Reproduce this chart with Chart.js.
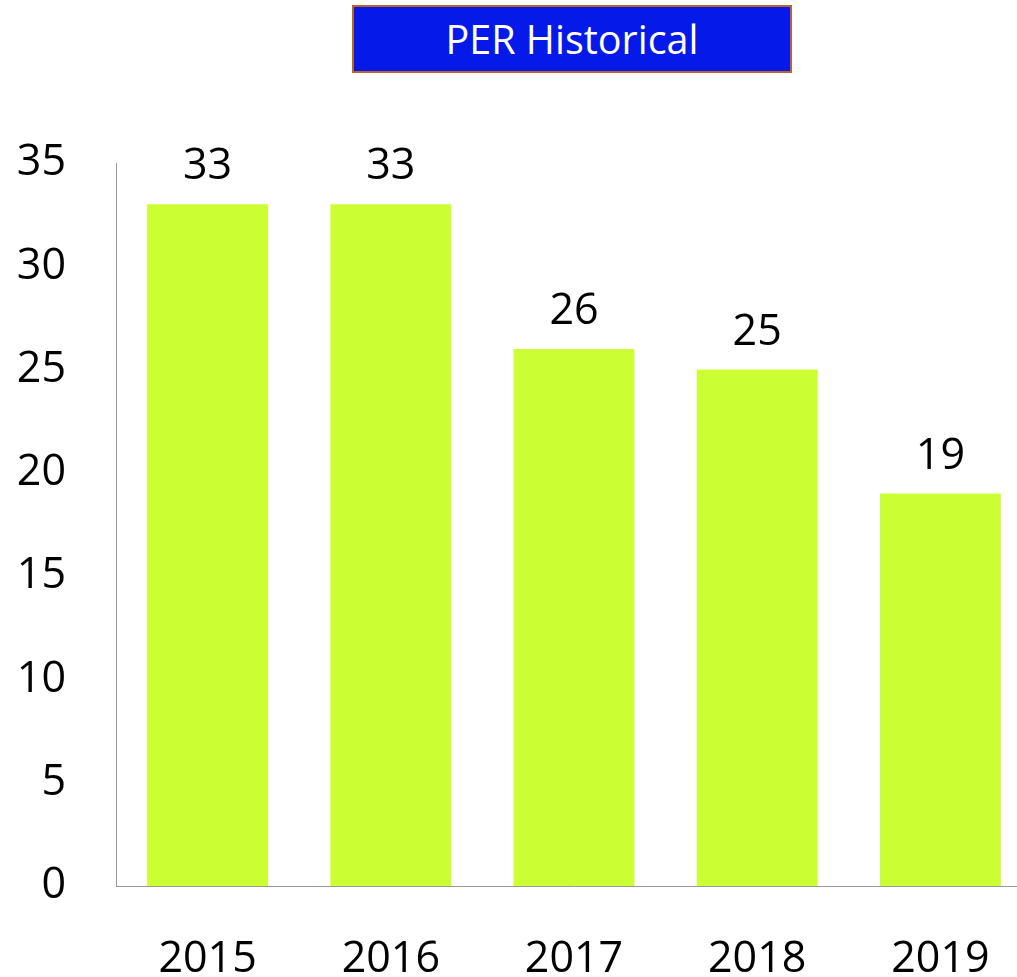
<!DOCTYPE html>
<html>
<head>
<meta charset="utf-8">
<script src="https://cdn.jsdelivr.net/npm/chart.js@4"></script>
<style>
  html, body { margin: 0; padding: 0; background: #fff; overflow: hidden; }
  #wrap { position: relative; width: 1017px; height: 977px; overflow: hidden; }
  #title {
    position: absolute; left: 352px; top: 5px; width: 436px; height: 64px;
    background: #0519e8; border: 2px solid #b8642c;
    color: #fff; font-family: "Open Sans", sans-serif; font-size: 39.5px;
    line-height: 64px; text-align: center;
  }
  canvas { position: absolute; left: 0; top: 0; }
</style>
</head>
<body>
<div id="wrap">
  <canvas id="perChart" width="1032" height="977"></canvas>
  <div id="title">PER Historical</div>
</div>
<script>
const years = ['2015', '2016', '2017', '2018', '2019']
const perValues = [33, 33, 26, 25, 19]
const yTicks = [0, 5, 10, 15, 20, 25, 30, 35]

const FONT = '"Open Sans", sans-serif'

// etiquetas de valor sobre cada barra
const valueLabels = {
  id: 'valueLabels',
  afterDatasetsDraw(chart) {
    const ctx = chart.ctx
    const meta = chart.getDatasetMeta(0)
    ctx.save()
    ctx.font = '43px ' + FONT
    ctx.fillStyle = '#000'
    ctx.textAlign = 'center'
    ctx.textBaseline = 'alphabetic'
    meta.data.forEach((bar, i) => {
      ctx.fillText(String(perValues[i]), bar.x, bar.y - 25)
    })
    ctx.restore()
  }
}

new Chart(document.getElementById('perChart').getContext('2d'), {
  type: 'bar',
  data: {
    labels: years,
    datasets: [{
      label: 'PER',
      data: perValues,
      backgroundColor: '#ccff33',
      categoryPercentage: 1,
      barPercentage: 0.66
    }]
  },
  options: {
    responsive: false,
    animation: false,
    layout: { padding: { top: 163, right: 0, bottom: 0, left: 0 } },
    plugins: {
      legend: { display: false },
      tooltip: { enabled: false }
    },
    scales: {
      x: {
        offset: true,
        grid: { display: false, drawTicks: false },
        border: { display: true, color: '#999', width: 1 },
        ticks: {
          color: '#000',
          font: { family: FONT, size: 43 },
          padding: 48,
          maxRotation: 0
        },
        afterFit(scale) {
          scale.height = 91
          scale.paddingLeft = 0
          scale.paddingRight = 0
        }
      },
      y: {
        min: 0,
        max: 35,
        afterBuildTicks(scale) { scale.ticks = yTicks.map(v => ({ value: v })) },
        grid: { display: false, drawTicks: false },
        border: { display: true, color: '#999', width: 1 },
        ticks: {
          color: '#000',
          font: { family: FONT, size: 43 },
          padding: 50
        },
        afterFit(scale) { scale.width = 116 }
      }
    }
  },
  plugins: [valueLabels]
})
</script>
</body>
</html>
